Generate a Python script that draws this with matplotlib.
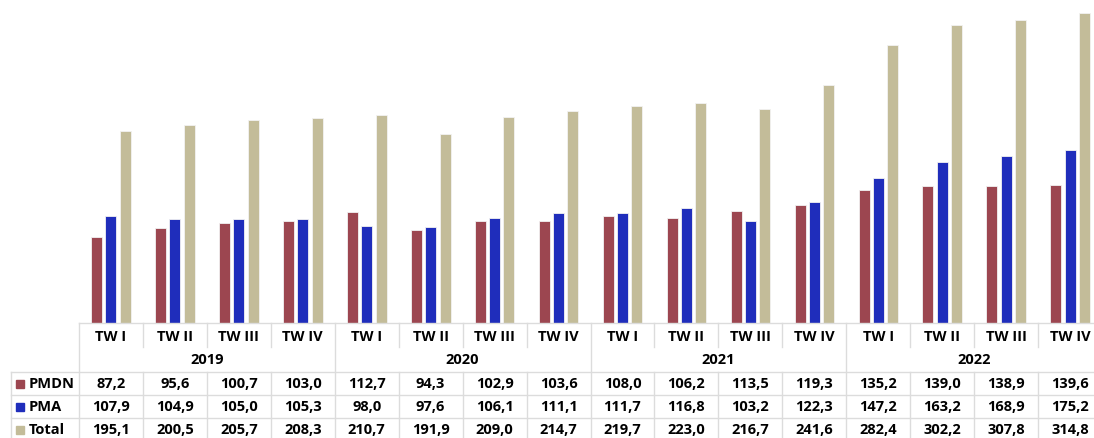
import matplotlib
matplotlib.use('Agg')
import matplotlib.pyplot as plt
import matplotlib.transforms as mtransforms
from matplotlib.patches import Rectangle
from matplotlib.lines import Line2D
import numpy as np

years = ['2019', '2020', '2021', '2022']
quarters = ['TW I', 'TW II', 'TW III', 'TW IV']
pmdn = [87.2, 95.6, 100.7, 103.0, 112.7, 94.3, 102.9, 103.6,
        108.0, 106.2, 113.5, 119.3, 135.2, 139.0, 138.9, 139.6]
pma = [107.9, 104.9, 105.0, 105.3, 98.0, 97.6, 106.1, 111.1,
       111.7, 116.8, 103.2, 122.3, 147.2, 163.2, 168.9, 175.2]
total = [195.1, 200.5, 205.7, 208.3, 210.7, 191.9, 209.0, 214.7,
         219.7, 223.0, 216.7, 241.6, 282.4, 302.2, 307.8, 314.8]
series_names = ['PMDN', 'PMA', 'Total']
colors = ['#9C4650', '#1F2DBB', '#C3BC99']

W, H = 1094, 439
fig = plt.figure(figsize=(W / 100, H / 100), dpi=100)
base = 323.5
ax = fig.add_axes([79 / W, (H - base) / H, (1102 - 79) / W, base / H])
n = len(pmdn)
x = np.arange(n)
offs = [-0.222, 0.0, 0.225]
bw = 0.172
for vals, off, c in zip([pmdn, pma, total], offs, colors):
    ax.bar(x + off, vals, bw, color=c, edgecolor='#f2f2f2', linewidth=0.6)
ax.set_xlim(-0.5, n - 0.5)
ax.set_ylim(0, 329)
ax.axis('off')

# ---- data table below ----
tr = mtransforms.blended_transform_factory(ax.transData, fig.transFigure)
def fy(p):
    return 1 - p / H
def fx(p):
    return p / W

lc = '#DCDCDC'
font = dict(family='Open Sans', weight='bold', fontsize=10.5, color='black')

def vline(xd, y0, y1):
    fig.add_artist(Line2D([xd, xd], [fy(y0), fy(y1)], transform=tr, color=lc, lw=1))

# top line (baseline)
fig.add_artist(Line2D([-0.5, n - 0.5], [fy(324), fy(324)], transform=tr, color=lc, lw=1))
# left border of table
vline(-0.5, 324, 441)
# column separators
for k in range(1, n):
    xb = k - 0.5
    if k % 4 == 0:
        vline(xb, 324, 441)
    else:
        vline(xb, 324, 348)
        vline(xb, 373, 441)
vline(n - 0.5, 324, 441)
# horizontal lines for data rows
for yp in [373, 396, 419, 441]:
    fig.add_artist(Line2D([fx(10.5), 1.02], [fy(yp), fy(yp)],
                          transform=fig.transFigure, color=lc, lw=1))
fig.add_artist(Line2D([fx(10.5), fx(10.5)], [fy(373), fy(441)],
                      transform=fig.transFigure, color=lc, lw=1))

# quarter labels
for i in range(n):
    ax.text(i, fy(337), quarters[i % 4], transform=tr, ha='center', va='center', **font)
# year labels
for j, yr in enumerate(years):
    ax.text(j * 4 + 1.5, fy(360.5), yr, transform=tr, ha='center', va='center', **font)

# data rows
row_y = [384.5, 407.5, 430.5]
for vals, name, c, yp in zip([pmdn, pma, total], series_names, colors, row_y):
    fig.add_artist(Rectangle((fx(15.5), fy(yp + 4.5)), 8.5 / W, 8.5 / H,
                             transform=fig.transFigure, color=c))
    fig.text(fx(29), fy(yp), name, ha='left', va='center', **font)
    for i, v in enumerate(vals):
        ax.text(i, fy(yp), f'{v:.1f}'.replace('.', ','), transform=tr,
                ha='center', va='center', **font)

fig.savefig('out.png', dpi=100, facecolor='white')
